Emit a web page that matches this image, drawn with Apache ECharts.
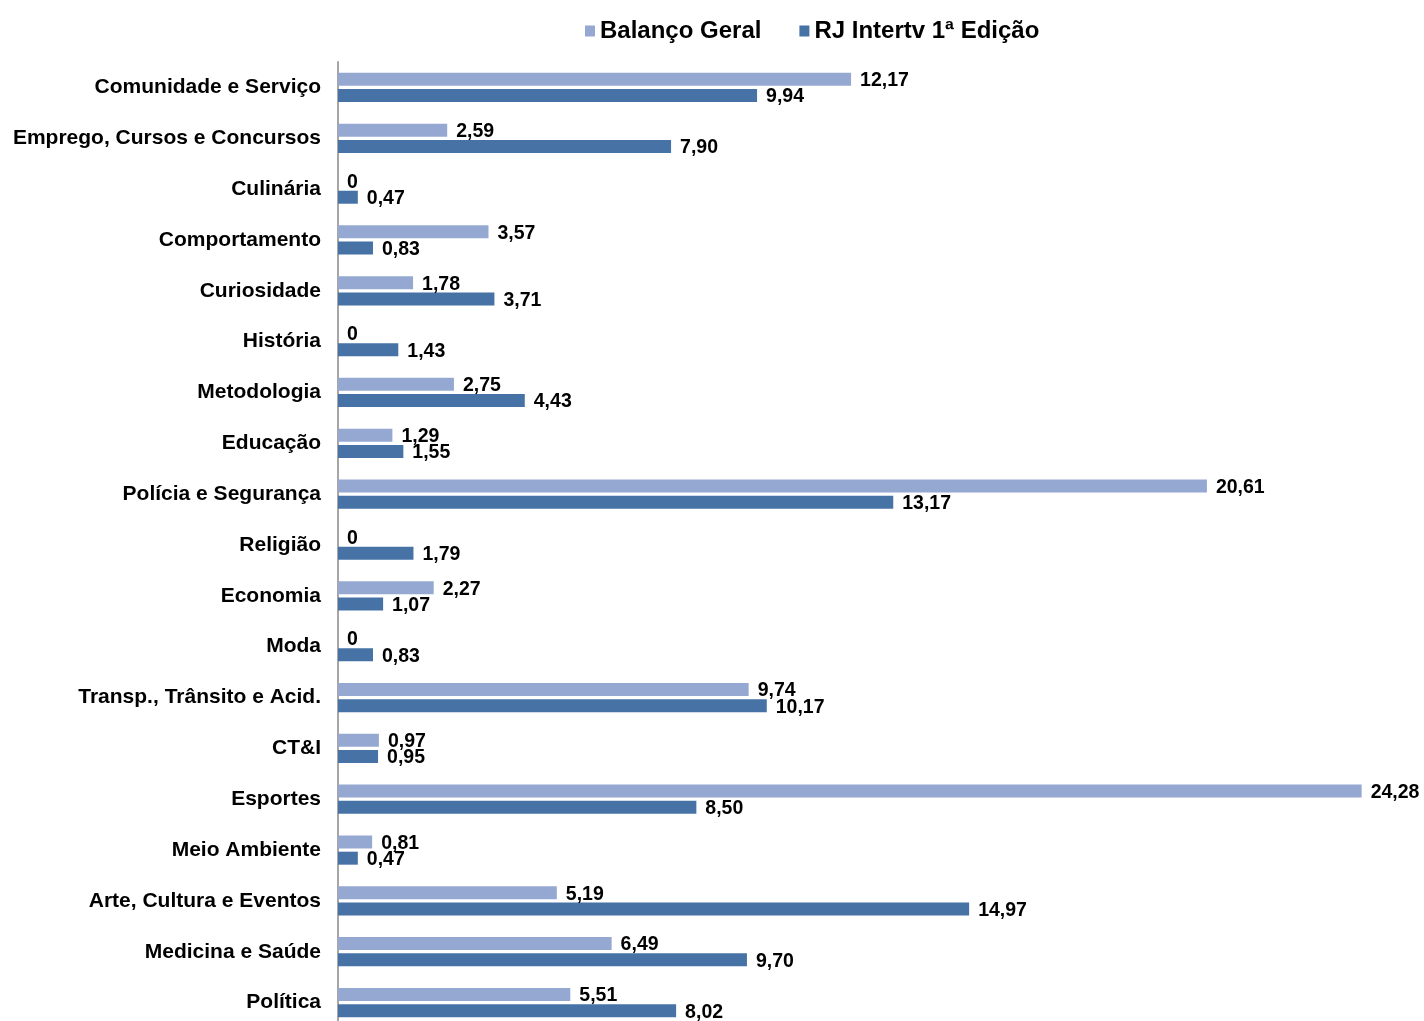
<!DOCTYPE html>
<html>
<head>
<meta charset="utf-8">
<script src="https://cdn.jsdelivr.net/npm/echarts@6/dist/echarts.min.js"></script>
<style>html,body{margin:0;padding:0;background:#fff;overflow:hidden}#c{width:1424px;height:1028px}</style>
</head>
<body>
<div id="c"></div>
<script>
const categories = ["Comunidade e Serviço","Emprego, Cursos e Concursos","Culinária","Comportamento","Curiosidade","História","Metodologia","Educação","Polícia e Segurança","Religião","Economia","Moda","Transp., Trânsito e Acid.","CT&I","Esportes","Meio Ambiente","Arte, Cultura e Eventos","Medicina e Saúde","Política"];
const balancoGeral = [12.17,2.59,0,3.57,1.78,0,2.75,1.29,20.61,0,2.27,0,9.74,0.97,24.28,0.81,5.19,6.49,5.51];
const rjIntertv = [9.94,7.90,0.47,0.83,3.71,1.43,4.43,1.55,13.17,1.79,1.07,0.83,10.17,0.95,8.50,0.47,14.97,9.70,8.02];
const seriesNames = ["Balanço Geral","RJ Intertv 1ª Edição"];

const FONT = "'Liberation Sans', Arial, sans-serif";
const fmt = p => p.value === 0 ? '0' : p.value.toFixed(2).replace('.', ',');
const chart = echarts.init(document.getElementById('c'), null, {renderer:'canvas'});
const labelCfg = {show:true, position:'right', distance:9, offset:[0,1.5], formatter:fmt, color:'#000', fontFamily:FONT, fontWeight:'bold', fontSize:19.5};
chart.setOption({
  animation:false,
  backgroundColor:'#fff',
  legend:{
    left:580, top:14, itemWidth:10, itemHeight:11, itemGap:38, icon:'rect',
    textStyle:{fontFamily:FONT, fontWeight:'bold', fontSize:24, color:'#000'},
    data:seriesNames
  },
  grid:{left:338, top:62, height:966, width:1054, containLabel:false},
  xAxis:{type:'value', min:0, max:25, show:false, splitLine:{show:false}},
  yAxis:{
    type:'category', data:categories, inverse:true,
    axisLine:{show:true, lineStyle:{color:'#A6A6A6', width:2}},
    axisTick:{show:false},
    axisLabel:{margin:17, color:'#000', fontFamily:FONT, fontWeight:'bold', fontSize:21}
  },
  series:[
    {name:seriesNames[0], type:'bar', data:balancoGeral, barWidth:13, barGap:'25%',
     itemStyle:{color:'#95A8D2'}, label:labelCfg},
    {name:seriesNames[1], type:'bar', data:rjIntertv, barWidth:13, barGap:'25%',
     itemStyle:{color:'#4672A6'}, label:labelCfg}
  ]
});
</script>
</body>
</html>
